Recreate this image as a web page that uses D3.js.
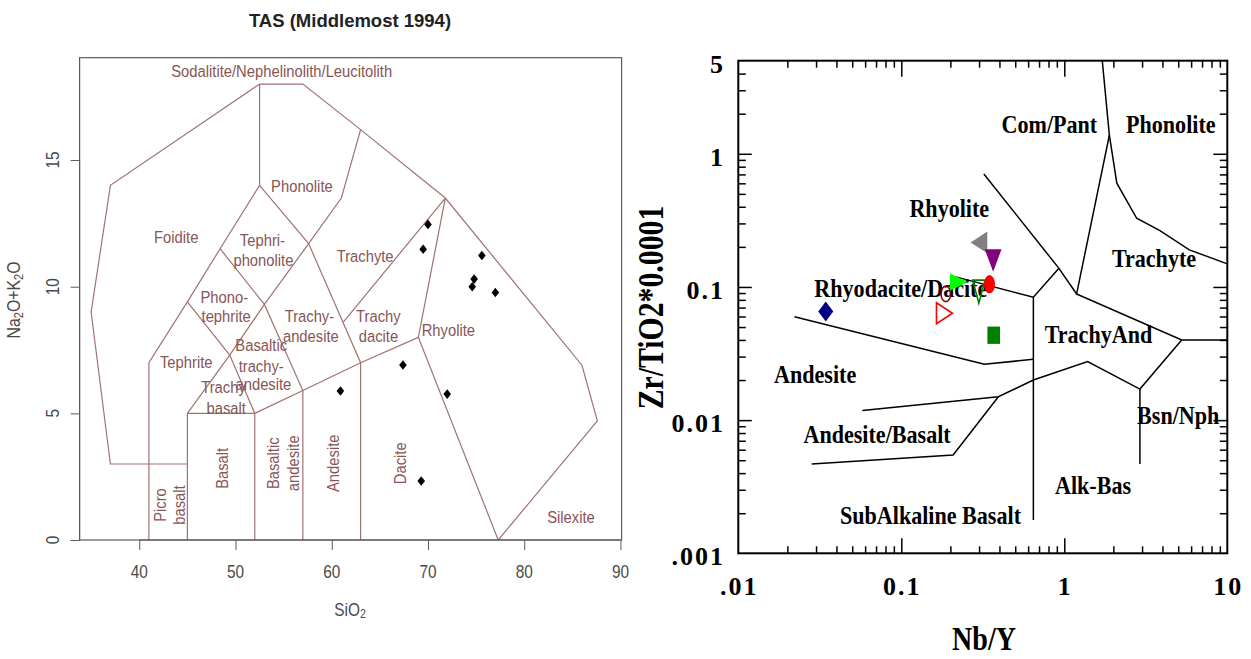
<!DOCTYPE html>
<html><head><meta charset="utf-8">
<script src="https://cdn.jsdelivr.net/npm/d3@7"></script>
<style>body{margin:0;background:#fff}svg{display:block}</style>
</head><body>
<svg id="chart" width="1251" height="659"></svg>
<script>
// ---------------- DATA: TAS (Middlemost 1994) ----------------
const tasTicksX = [40, 50, 60, 70, 80, 90];
const tasTicksY = [0, 5, 10, 15];
const tasSiO2 = [70.0, 69.5, 75.6, 74.8, 74.6, 77.0, 67.4, 60.9, 72.0, 69.3];
const tasAlkali = [12.46, 11.48, 11.23, 10.3, 10.0, 9.77, 6.91, 5.88, 5.76, 2.33];
const tasBoundaries = [
  [[45,3],[37,3],[35,9],[37,14],[52.5,18],[57,18],[63,16.2],[71.8,13.5],[86,6.9],[87.6,4.7],[77.3,0]],
  [[41,0],[41,7],[45,9.4],[48.4,11.5],[52.5,14],[52.5,18]],
  [[45,0],[45,5],[52,5],[52,0]],
  [[45,5],[49.4,7.3],[53,9.3],[57.6,11.7],[61,13.5],[63,16.2]],
  [[45,9.4],[49.4,7.3],[52,5],[57,5.9],[63,7],[69,8],[77.3,0]],
  [[48.4,11.5],[53,9.3],[57,5.9],[57,0]],
  [[52.5,14],[57.6,11.7],[63,7],[63,0]],
  [[61.2,8.6],[71.8,13.5],[69,8]]
];
// [text, SiO2, alkali, vertical?]
const tasLabels = [
  ["Sodalitite/Nephelinolith/Leucitolith", 54.8, 18.49, 0],
  ["Phonolite", 56.9, 13.95, 0],
  ["Foidite", 43.84, 11.95, 0],
  ["Tephri-", 52.8, 11.82, 0], ["phonolite", 52.9, 11.05, 0],
  ["Trachyte", 63.47, 11.21, 0],
  ["Phono-", 48.83, 9.6, 0], ["tephrite", 49.03, 8.84, 0],
  ["Trachy-", 57.68, 8.82, 0], ["andesite", 57.83, 8.05, 0],
  ["Trachy", 64.85, 8.82, 0], ["dacite", 64.85, 8.05, 0],
  ["Rhyolite", 72.12, 8.29, 0],
  ["Tephrite", 44.88, 7.02, 0],
  ["Basaltic", 52.67, 7.70, 0], ["trachy-", 52.67, 6.87, 0], ["andesite", 52.9, 6.16, 0],
  ["Trachy", 48.75, 6.03, 0], ["basalt", 49.03, 5.22, 0],
  ["Picro", 42.18, 1.38, 1], ["basalt", 44.18, 1.38, 1],
  ["Basalt", 48.59, 2.83, 1],
  ["Basaltic", 53.95, 3.03, 1], ["andesite", 55.96, 3.03, 1],
  ["Andesite", 60.18, 3.03, 1],
  ["Dacite", 67.1, 3.03, 1],
  ["Silexite", 84.86, 0.92, 0]
];

// ---------------- DATA: Winchester & Floyd Zr/TiO2 vs Nb/Y ----------------
const wfTickValuesX = [0.01, 0.1, 1, 10];
const wfTickLabelsX = [".01", "0.1", "1", "10"];
const wfTickValuesY = [0.001, 0.01, 0.1, 1, 5];
const wfTickLabelsY = [".001", "0.01", "0.1", "1", "5"];
const wfBoundaries = [
  [[1.71,5],[1.89,1.38],[1.19,0.0886],[5.25,0.040],[10,0.040]],
  [[1.89,1.38],[2.10,0.601],[2.78,0.328],[3.86,0.265],[5.85,0.190],[10,0.149]],
  [[0.321,0.705],[0.927,0.138],[1.19,0.0886]],
  [[0.216,0.119],[0.646,0.0837],[0.927,0.138]],
  [[0.646,0.0837],[0.646,0.00178]],
  [[0.0221,0.0598],[0.323,0.0263],[0.646,0.0286]],
  [[0.0577,0.0118],[0.394,0.0150],[0.646,0.0200],[1.39,0.0275],[2.91,0.0171],[5.25,0.040]],
  [[0.0282,0.00469],[0.208,0.00548],[0.394,0.0150]],
  [[2.91,0.0171],[2.91,0.00469]]
];
// [text, Nb/Y, Zr/TiO2 (baseline)]
const wfLabels = [
  ["Com/Pant", 0.81, 1.43],
  ["Phonolite", 4.5, 1.43],
  ["Rhyolite", 0.197, 0.337],
  ["Trachyte", 3.55, 0.1406],
  ["Rhyodacite/Dacite", 0.0993, 0.0841],
  ["TrachyAnd", 1.62, 0.0378],
  ["Andesite", 0.0296, 0.0189],
  ["Andesite/Basalt", 0.0710, 0.00671],
  ["Bsn/Nph", 5.0, 0.00936],
  ["Alk-Bas", 1.50, 0.00279],
  ["SubAlkaline Basalt", 0.151, 0.00166]
];
const wfNbY  = [0.0344, 0.184, 0.1875, 0.226, 0.299, 0.3475, 0.2996, 0.366, 0.369];
const wfZrTi = [0.0653, 0.0635, 0.0888, 0.109, 0.0922, 0.105, 0.216, 0.158, 0.0434];
// marker styles (one per sample, same order)
const wfStyles = [
  {shape:"diamond", color:"#000080", fill:true,  w:15,   h:20},
  {shape:"right",   color:"#ff0000", fill:false, w:16,   h:21},
  {shape:"ellipse", color:"#8b0000", fill:false, w:9.6,  h:15.5},
  {shape:"right",   color:"#00ff00", fill:true,  w:18,   h:17},
  {shape:"down",    color:"#008000", fill:false, w:12.3, h:23},
  {shape:"ellipse", color:"#ff0000", fill:true,  w:11,   h:18.4},
  {shape:"left",    color:"#808080", fill:true,  w:16.7, h:21.7},
  {shape:"down",    color:"#800080", fill:true,  w:16.7, h:22.3},
  {shape:"rect",    color:"#008000", fill:true,  w:12.7, h:17.3}
];

// ---------------- DRAW ----------------
const svg = d3.select("#chart");
svg.append("rect").attr("width",1251).attr("height",659).attr("fill","#fff");

// ===== LEFT PANEL =====
const L = svg.append("g");
const xL = d3.scaleLinear().domain([33.8, 90.12]).range([79.6, 621.6]);
const yL = d3.scaleLinear().domain([0, 19.04]).range([540, 57.7]);
const lineCol = "#a07272", textCol = "#875555", axCol = "#5a5a5a";
const sans = "'Liberation Sans', Arial, sans-serif";
const condense = 0.88;

function lText(g, x, y, str, opt) {
  opt = opt || {};
  const t = g.append("text")
    .attr("transform", `translate(${x},${y}) rotate(${opt.rot||0}) scale(${opt.sx||condense},1)`)
    .attr("text-anchor", opt.anchor || "middle")
    .attr("dominant-baseline", opt.base || "central")
    .attr("font-family", sans)
    .attr("font-size", opt.size || 16.8)
    .attr("font-weight", opt.weight || "normal")
    .attr("fill", opt.fill || textCol);
  t.text(str);
  return t;
}

// title
L.append("text").attr("x", 350).attr("y", 27).attr("text-anchor","middle")
  .attr("font-family", sans).attr("font-weight","bold").attr("font-size",18.5)
  .attr("fill","#222").text("TAS (Middlemost 1994)");

// boundaries
const lineL = d3.line().x(d => xL(d[0])).y(d => yL(d[1]));
L.append("g").selectAll("path").data(tasBoundaries).join("path")
  .attr("d", lineL).attr("fill","none").attr("stroke", lineCol).attr("stroke-width",1.2);

// labels
tasLabels.forEach(d => {
  lText(L, xL(d[1]), yL(d[2]), d[0], {rot: d[3] ? -90 : 0});
});

// box
L.append("rect").attr("x",79.6).attr("y",57.7).attr("width",621.6-79.6).attr("height",540-57.7)
  .attr("fill","none").attr("stroke",axCol).attr("stroke-width",1.2);

// axes
const axB = d3.axisBottom(xL).tickValues(tasTicksX).tickSize(10).tickFormat("");
L.append("g").attr("transform","translate(0,540)").call(axB)
  .call(g => { g.selectAll("line").attr("stroke",axCol); g.select(".domain").attr("stroke",axCol).attr("d",`M${xL(40)},0H${xL(90)}`); });
const axLft = d3.axisLeft(yL).tickValues(tasTicksY).tickSize(9).tickFormat("");
L.append("g").attr("transform","translate(79.6,0)").call(axLft)
  .call(g => { g.selectAll("line").attr("stroke",axCol); g.select(".domain").attr("stroke",axCol).attr("d",`M0,${yL(0)}V${yL(15)}`); });

tasTicksX.forEach(v => lText(L, xL(v), 572, String(v), {fill:"#4a4a4a", size:17.5}));
tasTicksY.forEach(v => lText(L, 53, yL(v), String(v), {fill:"#4a4a4a", size:17.5, rot:-90}));

// axis titles
lText(L, 350, 610, "", {fill:"#4a4a4a", size:17.5}).call(t => {
  t.append("tspan").text("SiO");
  t.append("tspan").attr("font-size",12).attr("dy",4).text("2");
});
lText(L, 14, 300, "", {fill:"#4a4a4a", size:18, rot:-90}).call(t => {
  t.append("tspan").text("Na");
  t.append("tspan").attr("font-size",12.5).attr("dy",4).text("2");
  t.append("tspan").attr("dy",-4).text("O+K");
  t.append("tspan").attr("font-size",12.5).attr("dy",4).text("2");
  t.append("tspan").attr("dy",-4).text("O");
});

// samples (black diamonds)
L.append("g").selectAll("path").data(tasSiO2).join("path")
  .attr("transform", (d,i) => `translate(${xL(d)},${yL(tasAlkali[i])})`)
  .attr("d", "M0,-4.8L3.8,0L0,4.8L-3.8,0Z").attr("fill","#000");

// ===== RIGHT PANEL =====
const R = svg.append("g");
const X0 = 738.3, X1 = 1227.3, Y0 = 553.3, Y1 = 60.7;
const xR = d3.scaleLog().domain([0.01, 10]).range([X0, X1]);
const yR = d3.scaleLog().domain([0.001, 5]).range([Y0, Y1]);
const serif = "'Liberation Serif', 'Times New Roman', serif";
const isMajor = v => Math.abs(Math.log10(v) - Math.round(Math.log10(v))) < 1e-9;

// boundaries
const lineR = d3.line().x(d => xR(d[0])).y(d => yR(d[1]));
R.append("g").selectAll("path").data(wfBoundaries).join("path")
  .attr("d", lineR).attr("fill","none").attr("stroke","#000").attr("stroke-width",1.5)
  .attr("stroke-linejoin","miter");

// ticks
const xt = xR.ticks().filter(v => v > 0.01 && v < 10);
const yt = yR.ticks().filter(v => v > 0.001 && v < 5);
function tickAxis(axisFn, scale, vals, size, tr) {
  const a = axisFn(scale).tickValues(vals).tickSize(size).tickFormat("");
  R.append("g").attr("transform", tr).call(a)
   .call(g => { g.select(".domain").remove(); g.selectAll("line").attr("stroke","#000").attr("stroke-width",1.5); });
}
tickAxis(d3.axisBottom, xR, xt.filter(v => !isMajor(v)), -7, `translate(0,${Y0})`);
tickAxis(d3.axisBottom, xR, xt.filter(isMajor), -15, `translate(0,${Y0})`);
tickAxis(d3.axisTop, xR, xt.filter(v => !isMajor(v)), -7, `translate(0,${Y1})`);
tickAxis(d3.axisTop, xR, xt.filter(isMajor), -16, `translate(0,${Y1})`);
tickAxis(d3.axisLeft, yR, yt.filter(v => !isMajor(v)), -7.5, `translate(${X0},0)`);
tickAxis(d3.axisLeft, yR, yt.filter(isMajor), -13.5, `translate(${X0},0)`);
tickAxis(d3.axisRight, yR, yt.filter(v => !isMajor(v)), -7.5, `translate(${X1},0)`);
tickAxis(d3.axisRight, yR, yt.filter(isMajor), -14, `translate(${X1},0)`);

// frame
R.append("rect").attr("x",X0).attr("y",Y1).attr("width",X1-X0).attr("height",Y0-Y1)
  .attr("fill","none").attr("stroke","#000").attr("stroke-width",2);

// tick labels
wfTickValuesX.forEach((v,i) => {
  R.append("text").attr("x", xR(v) + 1).attr("y", 595).attr("text-anchor","middle")
   .attr("font-family", serif).attr("font-weight","bold").attr("font-size",26)
   .attr("letter-spacing", 2).text(wfTickLabelsX[i]);
});
wfTickValuesY.forEach((v,i) => {
  R.append("text").attr("x", 725).attr("y", yR(v) + 12).attr("text-anchor","end")
   .attr("font-family", serif).attr("font-weight","bold").attr("font-size",26)
   .attr("letter-spacing", 2).text(wfTickLabelsY[i]);
});

// axis titles
R.append("text").attr("transform","translate(984,650) scale(0.85,1)").attr("text-anchor","middle")
  .attr("font-family", serif).attr("font-weight","bold").attr("font-size",33).text("Nb/Y");
R.append("text").attr("transform","translate(663,307.5) rotate(-90) scale(0.85,1)").attr("text-anchor","middle")
  .attr("font-family", serif).attr("font-weight","bold").attr("font-size",35).text("Zr/TiO2*0.0001");

// region labels
wfLabels.forEach(d => {
  R.append("text").attr("transform", `translate(${xR(d[1])},${yR(d[2])}) scale(0.85,1)`)
   .attr("text-anchor","middle").attr("font-family", serif).attr("font-weight","bold")
   .attr("font-size",26).attr("fill","#000").text(d[0]);
});

// markers
function shapePath(s) {
  const w = s.w/2, h = s.h/2;
  switch (s.shape) {
    case "diamond": return `M0,${-h}L${w},0L0,${h}L${-w},0Z`;
    case "right": return `M${-w},${-h}L${w},0L${-w},${h}Z`;
    case "left": return `M${w},${-h}L${-w},0L${w},${h}Z`;
    case "down": return `M${-w},${-h}L${w},${-h}L0,${h}Z`;
    case "rect": return `M${-w},${-h}H${w}V${h}H${-w}Z`;
  }
}
wfNbY.forEach((v,i) => {
  const s = wfStyles[i];
  const g = R.append("g").attr("transform", `translate(${xR(v)},${yR(wfZrTi[i])})`);
  const el = s.shape === "ellipse"
    ? g.append("ellipse").attr("rx", s.w/2).attr("ry", s.h/2)
    : g.append("path").attr("d", shapePath(s));
  el.attr("fill", s.fill ? s.color : "none")
    .attr("stroke", s.fill ? "none" : s.color)
    .attr("stroke-width", s.fill ? 0 : 1.6);
});
</script>
</body></html>
